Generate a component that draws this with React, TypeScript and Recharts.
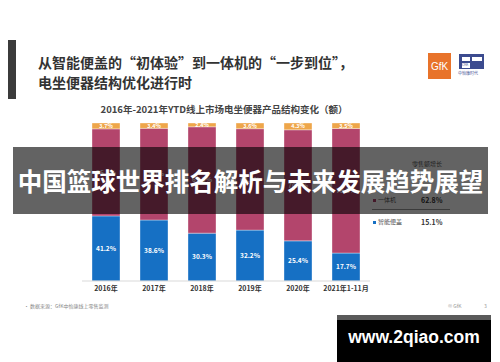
import React from 'react';
import { BarChart, Bar, XAxis, YAxis, LabelList } from 'recharts';

const categories = ['2016年', '2017年', '2018年', '2019年', '2020年', '2021年1-11月'];
const smartCover = [41.2, 38.6, 30.3, 32.2, 25.4, 17.7];
const allInOne = [55.1, 58.0, 67.3, 64.2, 70.3, 78.8];
const other = [3.7, 3.4, 2.4, 3.6, 4.3, 3.5];

const legendItems = [
  { name: '一体机', growth: '62.8%', color: '#b3456c' },
  { name: '智能便盖', growth: '15.1%', color: '#1670c4' },
];

const data = categories.map((c, i) => ({
  name: c,
  smart: smartCover[i],
  whole: allInOne[i],
  other: other[i],
}));

const FONT = '"Noto Sans CJK SC", "Noto Sans", sans-serif';
const fmt = (v: any) => `${Number(v).toFixed(1)}%`;

export default function App() {
  return (
    <div
      style={{
        position: 'fixed',
        left: 0,
        top: 0,
        width: 500,
        height: 362,
        background: '#ffffff',
        overflow: 'hidden',
        fontFamily: FONT,
      }}
    >
      <BarChart
        width={500}
        height={362}
        data={data}
        margin={{ top: 123, right: 130, left: 82, bottom: 51 }}
        barSize={28}
      >
        <XAxis
          dataKey="name"
          height={30}
          tickLine={false}
          axisLine={{ stroke: '#d9d9d9' }}
          tickSize={3}
          tick={{ fontSize: 7, fontWeight: 700, fill: '#333', fontFamily: FONT }}
          interval={0}
        />
        <YAxis hide domain={[0, 100]} />
        <Bar dataKey="smart" stackId="a" fill="#1670c4" stroke="#ffffff" strokeOpacity={0.35} strokeWidth={1} isAnimationActive={false}>
          <LabelList dataKey="smart" position="center" formatter={fmt} fill="#ffffff" fontSize={6.5} fontWeight={700} fontFamily={FONT} />
        </Bar>
        <Bar dataKey="whole" stackId="a" fill="#b3456c" stroke="#ffffff" strokeOpacity={0.35} strokeWidth={1} isAnimationActive={false}>
          <LabelList dataKey="whole" position="center" formatter={fmt} fill="#ffffff" fontSize={6.5} fontWeight={700} fontFamily={FONT} />
        </Bar>
        <Bar dataKey="other" stackId="a" fill="#eea64a" stroke="#ffffff" strokeOpacity={0.35} strokeWidth={1} isAnimationActive={false}>
          <LabelList dataKey="other" position="center" formatter={fmt} fill="#ffffff" fontSize={5.5} fontWeight={700} fontFamily={FONT} />
        </Bar>
      </BarChart>

      {/* left accent bar */}
      <div style={{ position: 'absolute', left: 8, top: 40, width: 8, height: 59, background: '#3b3b3b' }} />
      {/* slide title */}
      <div
        style={{
          position: 'absolute',
          left: 38,
          top: 52,
          fontSize: 14,
          lineHeight: '20px',
          fontWeight: 700,
          color: '#333',
          whiteSpace: 'nowrap',
        }}
      >
        <div>从智能便盖的“初体验”到一体机的“一步到位”，</div>
        <div>电坐便器结构优化进行时</div>
      </div>

      {/* logos */}
      <div
        style={{
          position: 'absolute',
          left: 428,
          top: 53,
          width: 23,
          height: 26,
          background: '#e8732a',
          color: '#fff',
          fontSize: 10,
          fontFamily: '"Liberation Sans", sans-serif',
          display: 'flex',
          alignItems: 'center',
          justifyContent: 'center',
        }}
      >
        GfK
      </div>
      <div style={{ position: 'absolute', left: 459, top: 54, width: 25, height: 15, background: '#3c4b8f' }}>
        <div style={{ position: 'absolute', left: 3, top: 3, width: 8, height: 4, background: '#fff' }} />
        <div style={{ position: 'absolute', left: 13, top: 3, width: 10, height: 4, background: '#fff' }} />
        <div style={{ position: 'absolute', left: 3, top: 9, width: 8, height: 5, background: '#fff', fontSize: 3, color: '#3c4b8f', lineHeight: '5px' }}>CMA</div>
      </div>
      <div style={{ position: 'absolute', left: 458, top: 70, fontSize: 4, color: '#3c4b8f', whiteSpace: 'nowrap' }}>中怡康时代</div>

      {/* chart title */}
      <div
        style={{
          position: 'absolute',
          left: 0,
          width: 448,
          top: 102,
          textAlign: 'center',
          fontSize: 9.5,
          fontWeight: 700,
          color: '#444',
          whiteSpace: 'nowrap',
        }}
      >
        2016年-2021年YTD线上市场电坐便器产品结构变化（额）
      </div>

      {/* legend */}
      <div style={{ position: 'absolute', left: 412, top: 159, fontSize: 6, color: '#555', whiteSpace: 'nowrap' }}>零售额增长</div>
      {legendItems.map((it, i) => (
        <div key={it.name} style={{ position: 'absolute', left: 373, top: 195 + i * 22, fontSize: 6, color: '#555', whiteSpace: 'nowrap', height: 10 }}>
          <span style={{ display: 'inline-block', width: 3, height: 3, background: it.color, marginRight: 2, verticalAlign: 'middle' }} />
          <span>{it.name}</span>
          <span style={{ position: 'absolute', left: 48, fontWeight: 700, fontSize: 7, color: '#333' }}>{it.growth}</span>
        </div>
      ))}
      <div style={{ position: 'absolute', left: 372, top: 209, width: 78, height: 1, background: '#999' }} />

      {/* footnote */}
      <div style={{ position: 'absolute', left: 24, top: 302, fontSize: 5, color: '#888', whiteSpace: 'nowrap' }}>• 数据来源：GfK中怡康线上零售监测</div>
      <div style={{ position: 'absolute', left: 448, top: 302, fontSize: 5, color: '#999', whiteSpace: 'nowrap' }}>© GfK</div>
      <div style={{ position: 'absolute', left: 484, top: 302, fontSize: 5, color: '#999' }}>3</div>

      {/* banner overlay */}
      <div
        style={{
          position: 'absolute',
          left: 13,
          top: 147,
          width: 475,
          height: 67,
          background: 'rgba(0,0,0,0.61)',
          color: '#fff',
          fontSize: 24.5,
          fontWeight: 700,
          display: 'flex',
          alignItems: 'center',
          justifyContent: 'center',
          whiteSpace: 'nowrap',
        }}
      >
        中国篮球世界排名解析与未来发展趋势展望
      </div>

      {/* watermark */}
      <div style={{ position: 'absolute', left: 337, top: 315, width: 154, height: 47, background: '#000' }}>
        <div style={{ position: 'absolute', left: 0, top: 0, width: 154, height: 5, background: '#5a5a5a' }} />
        <div
          style={{
            position: 'absolute',
            left: 0,
            top: 9,
            width: 154,
            textAlign: 'center',
            color: '#fff',
            fontSize: 17.5,
            fontWeight: 700,
            fontFamily: '"Liberation Sans", sans-serif',
            lineHeight: '26px',
          }}
        >
          www.2qiao.com
        </div>
      </div>
    </div>
  );
}
